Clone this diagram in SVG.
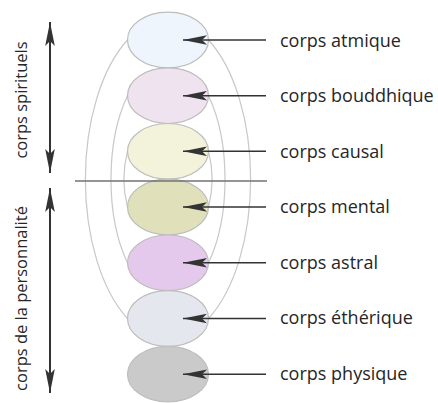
<svg xmlns="http://www.w3.org/2000/svg" width="438" height="403" viewBox="0 0 438 403">
<defs>
<style>
.bg{fill:#ffffff}
.body{stroke:#bdbdbd;stroke-width:1.2}
.arc{fill:none;stroke:#c8c8c8;stroke-width:1.2}
.ptr{fill:none;stroke:#333333;stroke-width:1.5}
.span{fill:none;stroke:#333333;stroke-width:2}
.sep{stroke:#727272;stroke-width:1.5}
.lbl{font-family:"Open Sans","Liberation Sans",sans-serif;font-size:18px;fill:#262626}
.side{font-family:"Open Sans","Liberation Sans",sans-serif;font-size:16.5px;fill:#262626;text-anchor:middle}
</style>
<marker id="ah" viewBox="0 -5 24 10" refX="24" refY="0" markerWidth="24" markerHeight="10" markerUnits="userSpaceOnUse" orient="auto-start-reverse">
<path d="M24,0 L0,-4.8 L5,0 L0,4.8 Z" fill="#333333"/>
</marker>
</defs>
<rect class="bg" x="0" y="0" width="438" height="403"/>

<g id="arcs">
<path class="arc" d="M127.5,40 A83,160 0 0 0 127.5,318.5"/>
<path class="arc" d="M208.5,40 A83,160 0 0 1 208.5,318.5"/>
<path class="arc" d="M127.5,95.7 A57,118.7 0 0 0 127.5,262.8"/>
<path class="arc" d="M208.5,95.7 A57,118.7 0 0 1 208.5,262.8"/>
<path class="arc" d="M127.5,151.3 A44,71.2 0 0 0 127.5,207"/>
<path class="arc" d="M208.5,151.3 A44,71.2 0 0 1 208.5,207"/>
</g>

<g id="n-atmique"><ellipse class="body" cx="168" cy="40" rx="40.5" ry="27.8" fill="#eef5fc"/></g>
<g id="n-bouddhique"><ellipse class="body" cx="168" cy="95.7" rx="40.5" ry="27.8" fill="#efe3f0"/></g>
<g id="n-causal"><ellipse class="body" cx="168" cy="151.3" rx="40.5" ry="27.8" fill="#f2f3da"/></g>
<g id="n-mental"><ellipse class="body" cx="168" cy="207" rx="40.5" ry="27.8" fill="#e0e1ba"/></g>
<g id="n-astral"><ellipse class="body" cx="168" cy="262.8" rx="40.5" ry="27.8" fill="#e4c9ec"/></g>
<g id="n-etherique"><ellipse class="body" cx="168" cy="318.5" rx="40.5" ry="27.8" fill="#e4e8ee"/></g>
<g id="n-physique"><ellipse class="body" cx="168" cy="374.2" rx="40.5" ry="27.8" fill="#cacaca"/></g>

<g id="separator"><line class="sep" x1="75" y1="181" x2="267" y2="181"/></g>

<g id="connectors">
<line class="ptr" x1="266" y1="40" x2="183" y2="40" marker-end="url(#ah)"/>
<line class="ptr" x1="266" y1="95.7" x2="183" y2="95.7" marker-end="url(#ah)"/>
<line class="ptr" x1="266" y1="151.3" x2="183" y2="151.3" marker-end="url(#ah)"/>
<line class="ptr" x1="266" y1="207" x2="183" y2="207" marker-end="url(#ah)"/>
<line class="ptr" x1="266" y1="262.8" x2="183" y2="262.8" marker-end="url(#ah)"/>
<line class="ptr" x1="266" y1="318.5" x2="183" y2="318.5" marker-end="url(#ah)"/>
<line class="ptr" x1="266" y1="374.2" x2="183" y2="374.2" marker-end="url(#ah)"/>
<line class="span" x1="50" y1="22" x2="50" y2="173" marker-start="url(#ah)" marker-end="url(#ah)"/>
<line class="span" x1="50" y1="188" x2="50" y2="393" marker-start="url(#ah)" marker-end="url(#ah)"/>
</g>

<g id="l-atmique"><text class="lbl" x="280" y="46.5">corps atmique</text></g>
<g id="l-bouddhique"><text class="lbl" x="280" y="102">corps bouddhique</text></g>
<g id="l-causal"><text class="lbl" x="280" y="157.5">corps causal</text></g>
<g id="l-mental"><text class="lbl" x="280" y="213">corps mental</text></g>
<g id="l-astral"><text class="lbl" x="280" y="268.5">corps astral</text></g>
<g id="l-etherique"><text class="lbl" x="280" y="324">corps éthérique</text></g>
<g id="l-physique"><text class="lbl" x="280" y="379.5">corps physique</text></g>

<g id="g-spirituels"><text class="side" transform="translate(26.5,100) rotate(-90)">corps spirituels</text></g>
<g id="g-personnalite"><text class="side" transform="translate(26.5,298.5) rotate(-90)">corps de la personnalité</text></g>
</svg>
